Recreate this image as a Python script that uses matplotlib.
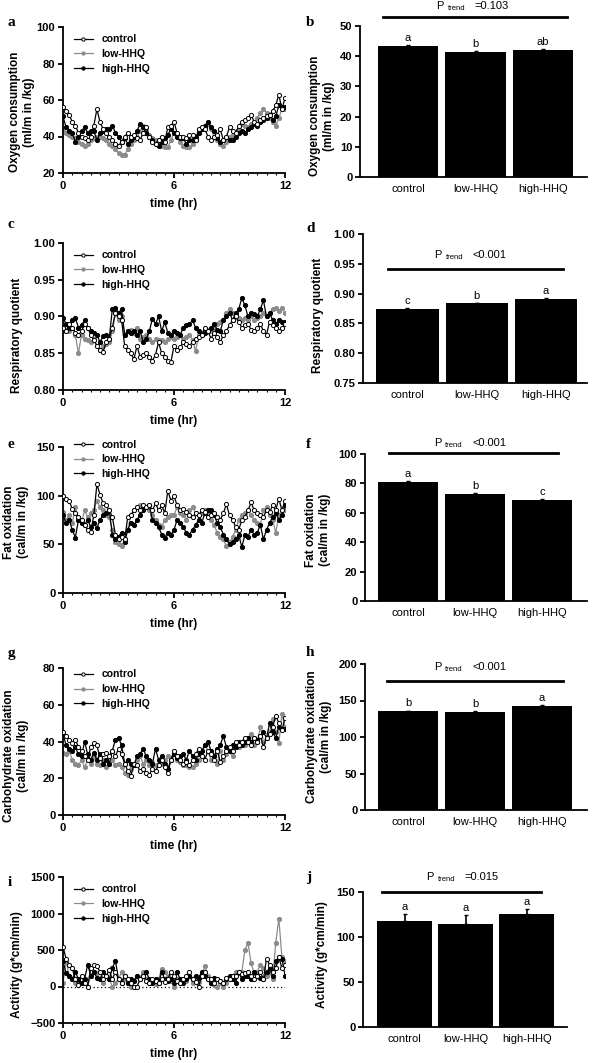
import numpy as np
import matplotlib
matplotlib.use('Agg')
from matplotlib import pyplot as plt
from matplotlib.ticker import MultipleLocator

plt.rcParams['font.family'] = ['Liberation Sans', 'DejaVu Sans']

W, H = 592, 1063
groups = ["control", "low-HHQ", "high-HHQ"]

# ---- time courses, one value every 10 min (0 .. 12 hr) ----
o2_control = [56, 54, 52, 48, 46, 42, 40, 39, 38, 40, 46, 55,
              48, 44, 42, 40, 38, 36, 35, 37, 40, 42, 40, 41,
              39, 38, 42, 45, 40, 37, 36, 38, 40, 37, 45, 46,
              48, 42, 40, 40, 39, 41, 41, 38, 44, 45, 44, 40,
              38, 40, 41, 44, 38, 40, 45, 43, 42, 46, 48, 49,
              50, 52, 48, 47, 49, 50, 51, 52, 54, 57, 63, 55, 61]
o2_low = [44, 42, 41, 40, 39, 37, 36, 35, 36, 38, 39, 40,
          40, 39, 38, 36, 35, 33, 31, 30, 30, 33, 36, 38,
          40, 43, 46, 44, 41, 39, 38, 37, 35, 34, 34, 38,
          42, 40, 37, 35, 34, 34, 36, 38, 43, 44, 45, 47,
          44, 40, 38, 36, 35, 37, 40, 41, 42, 44, 47, 46,
          45, 47, 48, 50, 53, 55, 53, 50, 48, 46, 50, 55, 55]
o2_high = [51, 45, 43, 42, 37, 40, 43, 45, 42, 43, 43, 38,
           42, 43, 44, 44, 46, 42, 40, 37, 39, 36, 38, 40,
           43, 47, 45, 42, 40, 38, 36, 35, 37, 39, 41, 44,
           42, 40, 39, 39, 36, 38, 38, 40, 42, 44, 46, 48,
           45, 43, 39, 37, 38, 40, 38, 38, 40, 42, 43, 42,
           44, 45, 47, 46, 48, 49, 50, 52, 49, 51, 57, 56, 56]

rq_control = [.885, .880, .890, .885, .878, .875, .880, .890, .885, .875, .868, .860,
              .855, .852, .865, .870, .885, .905, .900, .895, .860, .855, .850, .842,
              .860, .845, .848, .850, .845, .840, .848, .865, .850, .845, .840, .838,
              .860, .855, .858, .865, .862, .860, .865, .870, .872, .875, .885, .880,
              .870, .878, .872, .865, .875, .880, .888, .895, .900, .892, .885, .888,
              .890, .882, .880, .885, .890, .880, .875, .893, .888, .885, .880, .885, .890]
rq_low = [.880, .890, .880, .885, .875, .850, .875, .870, .868, .865, .870, .860,
          .855, .860, .862, .865, .880, .905, .895, .900, .875, .880, .882, .878,
          .885, .870, .872, .875, .870, .865, .870, .868, .868, .865, .870, .872,
          .870, .872, .875, .870, .872, .875, .868, .853, .875, .878, .880, .882,
          .880, .885, .890, .892, .895, .905, .910, .905, .900, .898, .895, .898,
          .895, .900, .895, .898, .900, .905, .900, .905, .910, .912, .908, .912, .905]
rq_high = [.898, .890, .885, .895, .898, .885, .888, .895, .885, .880, .878, .875,
           .865, .873, .875, .870, .910, .912, .905, .910, .875, .880, .878, .880,
           .875, .880, .865, .870, .880, .897, .890, .900, .880, .892, .878, .875,
           .880, .878, .875, .885, .888, .890, .895, .885, .880, .875, .878, .880,
           .885, .890, .882, .880, .895, .900, .905, .895, .905, .910, .925, .915,
           .900, .905, .903, .900, .910, .922, .900, .905, .895, .890, .895, .893, .893]

fat_control = [100, 97, 95, 86, 82, 78, 75, 70, 65, 63, 80, 112,
               101, 92, 90, 85, 78, 60, 55, 58, 55, 78, 80, 85,
               88, 85, 90, 88, 90, 85, 92, 85, 90, 82, 105, 95,
               100, 90, 85, 86, 83, 80, 78, 82, 80, 85, 83, 78,
               80, 82, 78, 75, 82, 91, 80, 75, 68, 65, 75, 78,
               85, 93, 85, 82, 80, 78, 85, 83, 90, 85, 97, 85, 95]
fat_low = [83, 75, 80, 72, 88, 75, 72, 85, 78, 82, 85, 95,
           88, 85, 80, 78, 65, 52, 50, 48, 55, 65, 80, 85,
           88, 90, 88, 88, 85, 80, 75, 70, 68, 75, 78, 80,
           80, 88, 82, 80, 75, 85, 88, 82, 80, 82, 85, 82,
           75, 70, 62, 58, 55, 48, 52, 58, 65, 75, 80, 82,
           85, 80, 75, 72, 70, 85, 88, 80, 75, 62, 80, 85, 85]
fat_high = [80, 72, 75, 65, 57, 75, 72, 70, 75, 68, 72, 67,
            75, 80, 82, 85, 60, 55, 58, 62, 52, 65, 72, 70,
            75, 80, 85, 88, 90, 75, 72, 68, 60, 57, 62, 60,
            65, 75, 72, 68, 62, 60, 65, 70, 75, 72, 82, 85,
            85, 80, 72, 68, 60, 55, 50, 52, 55, 60, 47, 60,
            58, 65, 60, 62, 70, 55, 65, 72, 78, 82, 75, 80, 90]

cho_control = [45, 43, 41, 39, 41, 37, 35, 32, 30, 37, 39, 38,
               31, 33, 34, 32, 35, 32, 36, 33, 28, 24, 21, 28,
               27, 24, 25, 23, 22, 25, 24, 27, 30, 26, 23, 30,
               35, 32, 30, 28, 29, 27, 30, 33, 36, 32, 30, 35,
               33, 30, 35, 29, 32, 35, 37, 35, 40, 38, 40, 42,
               40, 38, 42, 40, 43, 37, 42, 44, 48, 54, 50, 46, 53]
cho_low = [34, 33, 35, 30, 28, 27, 30, 26, 30, 28, 32, 28,
           27, 30, 26, 28, 30, 27, 28, 26, 23, 22, 25, 27,
           30, 32, 28, 30, 27, 29, 27, 28, 28, 30, 32, 31,
           33, 30, 29, 27, 27, 26, 26, 28, 30, 32, 38, 35,
           30, 32, 28, 35, 30, 33, 35, 32, 38, 37, 40, 38,
           42, 44, 38, 40, 48, 40, 42, 45, 52, 45, 39, 55, 48]
cho_high = [44, 38, 36, 35, 37, 33, 32, 40, 33, 30, 34, 30,
            33, 28, 30, 28, 35, 41, 42, 38, 28, 30, 28, 27,
            32, 33, 36, 32, 30, 28, 36, 30, 32, 28, 25, 30,
            33, 31, 32, 33, 30, 35, 32, 30, 33, 35, 38, 40,
            35, 32, 36, 38, 43, 37, 35, 38, 37, 40, 38, 40,
            42, 40, 42, 41, 43, 45, 42, 50, 45, 42, 48, 47, 47]

act_control = [545, 380, 300, 250, 100, 20, 150, 50, 0, 250, 300, 280,
               200, 100, 150, 220, 100, 200, 100, 50, 150, 100, 50, 0,
               0, 100, 150, 80, 50, 100, 80, 50, 100, 60, 100, 200,
               150, 80, 50, 100, 150, 200, 100, 60, 0, 150, 200, 100,
               100, 50, 100, 80, 50, 120, 100, 140, 150, 200, 170, 180,
               200, 150, 100, 150, 200, 100, 380, 300, 200, 250, 400, 250, 300]
act_low = [50, 350, 150, 100, 50, 80, 150, 50, 0, 150, 200, 180,
           100, 50, 150, 100, 0, 50, 100, 200, 100, 50, 0, 80,
           150, 120, 200, 100, 50, 60, 30, 100, 240, 200, 150, 80,
           0, 100, 50, 100, 80, 150, 50, 100, 60, 150, 280, 150,
           50, 20, 0, 50, 0, 50, 100, 150, 200, 180, 200, 500,
           600, 320, 180, 200, 300, 250, 150, 200, 100, 600, 930, 400, 350]
act_high = [350, 180, 150, 100, 200, 100, 50, 100, 300, 150, 200, 120,
            100, 200, 150, 100, 250, 350, 100, 50, 150, 50, 100, 80,
            150, 100, 150, 200, 100, 50, 100, 50, 200, 100, 80, 100,
            50, 200, 100, 50, 100, 150, 100, 150, 120, 200, 150, 100,
            50, 120, 100, 80, 50, 100, 150, 100, 50, 200, 100, 150,
            150, 100, 200, 150, 120, 100, 200, 250, 150, 350, 400, 380, 150]

# ---- group means (bar panels) ----
o2_mean = [43.5, 41.5, 42.2]
o2_err = [0.3, 0.3, 0.3]
o2_sig = ["a", "b", "ab"]
rq_mean = [0.875, 0.884, 0.891]
rq_err = [0.0008, 0.0008, 0.0008]
rq_sig = ["c", "b", "a"]
fat_mean = [81, 73, 69]
fat_err = [0.6, 0.6, 0.6]
fat_sig = ["a", "b", "c"]
cho_mean = [135, 134, 142]
cho_err = [1.2, 1.2, 1.2]
cho_sig = ["b", "b", "a"]
act_mean = [117.5, 114.5, 126]
act_err = [8, 9.5, 5.5]
act_sig = ["a", "a", "a"]

fig = plt.figure(figsize=(W / 100, H / 100), dpi=100)


def px_axes(l, t, r, b):
    return fig.add_axes([l / W, 1 - b / H, (r - l) / W, (b - t) / H])


def style(ax):
    for s in ['top', 'right']:
        ax.spines[s].set_visible(False)
    for s in ['left', 'bottom']:
        ax.spines[s].set_linewidth(1.3)
    ax.tick_params(width=1.3, length=3.5, pad=2, labelsize=8)
    for lab in ax.get_yticklabels():
        lab.set_fontweight('bold')


def ylab(x, y, text):
    fig.text(x / W, 1 - y / H, text, rotation=90, ha='center', va='center',
             fontsize=8.5, fontweight='bold', multialignment='center',
             linespacing=1.15)


def letter(x, y, s):
    fig.text(x / W, 1 - y / H, s, fontsize=11, fontweight='bold',
             family='Liberation Serif', ha='left', va='center')


def time_panel(box, ctrl, low, high, ylim, step, leg_y, fmt=None):
    ax = px_axes(*box)
    series = [(ctrl, 'control', 'white', 'black', 4),
              (low, 'low-HHQ', '#8c8c8c', '#8c8c8c', 2),
              (high, 'high-HHQ', 'black', 'black', 3)]
    for vals, name, face, col, z in series:
        t = np.linspace(0, 12, len(vals))
        ax.plot(t, vals, color=col, lw=0.9, marker='o', ms=3.0,
                mfc=face, mec=col, mew=0.7, label=name, zorder=z)
    ax.set_xlim(0, 12)
    ax.set_ylim(*ylim)
    ax.set_xticks([0, 6, 12])
    ax.xaxis.set_minor_locator(MultipleLocator(0.5))
    ax.tick_params(axis='x', which='minor', length=1.5, width=0.8)
    ax.yaxis.set_major_locator(MultipleLocator(step))
    if fmt:
        ax.yaxis.set_major_formatter(fmt)
    style(ax)
    for lab in ax.get_xticklabels():
        lab.set_fontweight('bold')
    ax.set_xlabel('time (hr)', fontsize=8.5, fontweight='bold', labelpad=5)
    ax.legend(loc='upper left', bbox_to_anchor=(0.05, leg_y), frameon=False,
              prop={'size': 7.5, 'weight': 'bold'}, handlelength=1.8,
              handletextpad=0.8, labelspacing=0.45, borderaxespad=0,
              borderpad=0, markerscale=0.8)
    return ax


def bar_panel(box, xl, means, errs, sig, ylim, step, line, ptxt, fmt=None):
    ax = px_axes(*box)
    x = np.arange(len(groups))
    ax.bar(x, means, width=0.9, color='black', zorder=2)
    ax.errorbar(x, means, yerr=[np.zeros(3), errs], fmt='none', ecolor='black',
                elinewidth=1.2, capsize=1.5, capthick=1.0, zorder=1)
    for xi, m, e, s in zip(x, means, errs, sig):
        ax.annotate(s, (xi, m + e), xytext=(0, 1.5), textcoords='offset points',
                    ha='center', va='bottom', fontsize=8)
    ax.set_xlim(*xl)
    ax.set_ylim(*ylim)
    ax.set_xticks(x)
    ax.set_xticklabels(groups, fontsize=7.5)
    ax.yaxis.set_major_locator(MultipleLocator(step))
    if fmt:
        ax.yaxis.set_major_formatter(fmt)
    style(ax)
    ax.tick_params(axis='x', length=0, pad=5)
    x0, x1, yl, px, yt = line
    ax.plot([x0, x1], [yl, yl], color='black', lw=2, clip_on=False)
    ax.annotate('P', (px, yt), ha='center', va='center', fontsize=8,
                annotation_clip=False)
    ax.annotate('trend', (px, yt), xytext=(5.5, -2), textcoords='offset points',
                ha='left', va='center', fontsize=5.5, annotation_clip=False)
    ax.annotate(ptxt, (px, yt), xytext=(25, 0), textcoords='offset points',
                ha='left', va='center', fontsize=8, annotation_clip=False)
    return ax


f2 = '{x:.2f}'

# row 1
time_panel((63, 27, 285, 173), o2_control, o2_low, o2_high, (20, 100), 20, 0.95)
bar_panel((360, 26, 587, 177), (-0.71, 2.65), o2_mean, o2_err, o2_sig, (0, 50), 10,
          (-0.37, 2.36, 53, 0.47, 56.6), '=0.103')
# row 2
time_panel((63, 243, 285, 390), rq_control, rq_low, rq_high, (0.80, 1.00), 0.05, 0.95, f2)
bar_panel((363, 234, 587, 383), (-0.64, 2.59), rq_mean, rq_err, rq_sig, (0.75, 1.00), 0.05,
          (-0.28, 2.24, 0.941, 0.44, 0.965), '<0.001', f2)
# row 3
time_panel((63, 447, 285, 593), fat_control, fat_low, fat_high, (0, 150), 50, 1.05)
bar_panel((365, 454, 587, 601), (-0.64, 2.67), fat_mean, fat_err, fat_sig, (0, 100), 20,
          (-0.28, 2.24, 100.5, 0.44, 107.5), '<0.001')
# row 4
time_panel((63, 668, 285, 815), cho_control, cho_low, cho_high, (0, 80), 20, 0.99)
bar_panel((365, 664, 587, 810), (-0.65, 2.68), cho_mean, cho_err, cho_sig, (0, 200), 50,
          (-0.32, 2.32, 176.7, 0.44, 196), '<0.001')
# row 5
ax_i = time_panel((63, 877, 285, 1023), act_control, act_low, act_high, (-500, 1500), 500, 0.95)
ax_i.axhline(0, color='black', ls=(0, (1, 2)), lw=0.9, zorder=1)
bar_panel((363, 892, 567, 1027), (-0.68, 2.66), act_mean, act_err, act_sig, (0, 150), 50,
          (-0.37, 2.24, 150.5, 0.42, 166.7), '=0.015')

# axis titles
ylab(22, 112, 'Oxygen consumption\n(ml/m in /kg)')
ylab(322, 116, 'Oxygen consumption\n(ml/m in /kg)')
ylab(17, 335, 'Respiratory quotient')
ylab(318, 315, 'Respiratory quotient')
ylab(16, 522, 'Fat oxidation\n(cal/m in /kg)')
ylab(318, 530, 'Fat oxidation\n(cal/m in /kg)')
ylab(16, 756, 'Carbohydrate oxidation\n(cal/m in /kg)')
ylab(319, 737, 'Carbohydrate oxidation\n(cal/m in /kg)')
ylab(17, 965, 'Activity (g*cm/min)')
ylab(322, 955, 'Activity (g*cm/min)')

# panel letters
for s, x, y in [('a', 8, 22), ('b', 306, 22), ('c', 8, 225), ('d', 306, 228),
                ('e', 8, 445), ('f', 306, 445), ('g', 8, 653), ('h', 306, 652),
                ('i', 8, 882), ('j', 306, 877)]:
    letter(x, y, s)

fig.savefig('out.png', dpi=100)
